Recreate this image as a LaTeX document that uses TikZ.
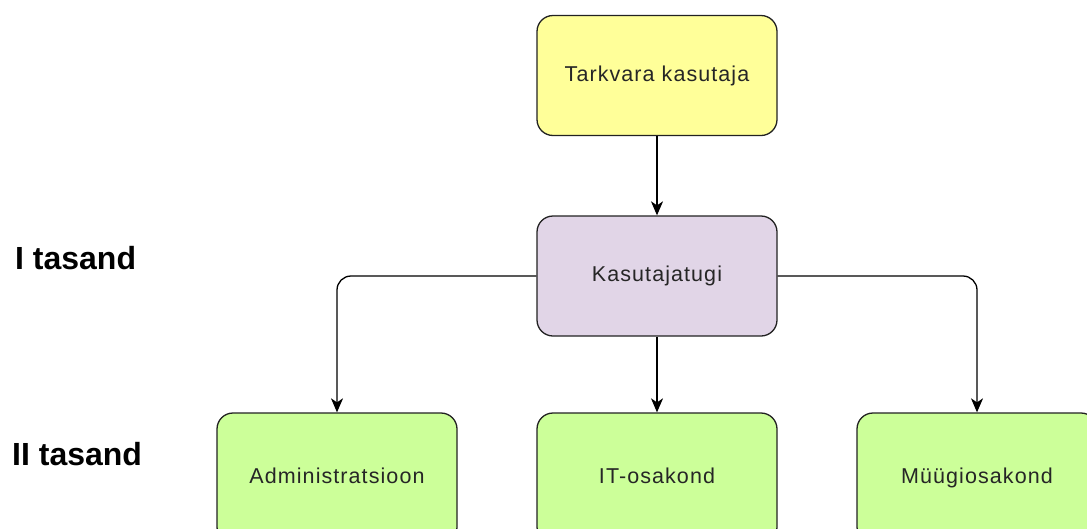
\documentclass[tikz,border=0pt]{standalone}
\usepackage{fontspec}
\setmainfont{Liberation Sans}
\usetikzlibrary{arrows.meta}
\definecolor{cyellow}{HTML}{FFFF99}
\definecolor{clav}{HTML}{E1D5E7}
\definecolor{cgreen}{HTML}{CCFF99}
\definecolor{cborder}{HTML}{222222}
\begin{document}
\begin{tikzpicture}[x=1pt,y=-1pt,
  box/.style={draw=cborder,line width=1.3pt,rounded corners=16pt,minimum width=240pt,minimum height=120pt,inner sep=0pt,text height=15pt,text depth=4pt,font=\fontsize{21.5}{24}\selectfont\addfontfeature{LetterSpace=5},text=black!85},
  lowbox/.style={box,fill=cgreen,minimum height=130pt},
  lvl/.style={anchor=base west,inner sep=0pt,font=\fontsize{32}{38}\selectfont\bfseries},
  conn/.style={draw=black,line width=1.3pt,rounded corners=14pt,-{Stealth[length=14pt,width=12pt,inset=4pt]}}]
\useasboundingbox (0,0) rectangle (1087,528);
\clip (0,0) rectangle (1087,528);
\node[box,fill=cyellow] (user) at (657,75.5) {Tarkvara kasutaja};
\node[box,fill=clav] (tugi) at (657,276) {Kasutajatugi};
\node[lowbox] (adm) at (337,478) {Administratsioon};
\node[lowbox] (it) at (657,478) {IT-osakond};
\node[lowbox] (myyk) at (977,478) {Müügiosakond};
\node[lvl] (l1) at (15,269) {I tasand};
\node[lvl] (l2) at (12,465) {II tasand};
\draw[conn] (user.south) -- (tugi.north);
\draw[conn] (tugi.south) -- (it.north);
\draw[conn] (tugi.west) -| (adm.north);
\draw[conn] (tugi.east) -| (myyk.north);
\end{tikzpicture}
\end{document}
